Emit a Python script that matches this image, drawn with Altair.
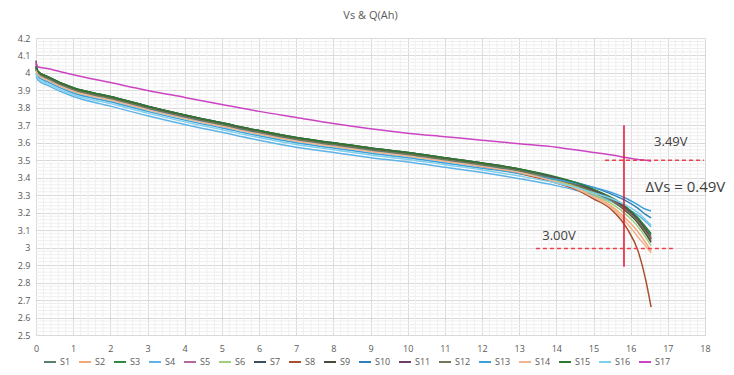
import altair as alt
import pandas as pd
import numpy as np

# Capacity (Ah) sample positions shared by all series
Q = [0, 0.05, 0.3, 1, 2, 3, 4, 5, 6, 7, 8, 9, 10, 11, 12, 13, 14, 14.5, 15, 15.5, 15.9, 16.2, 16.4, 16.55]

SERIES = ["S%d" % i for i in range(1, 18)]
COLORS = ["#5a7f6a", "#f4a77a", "#2f8a45", "#5fb3e6", "#b5679f", "#9fcf7f",
          "#3d4f5e", "#a8502c", "#4a4a3a", "#2f7fb8", "#6e3f66", "#6f7a55",
          "#3f9fd8", "#f2b48f", "#2a7a30", "#7fd0ee", "#cc44c4"]

S1 = [4.02, 3.995, 3.965, 3.90, 3.85, 3.795, 3.745, 3.70, 3.655, 3.615, 3.585, 3.555, 3.53, 3.50, 3.47, 3.435, 3.385, 3.355, 3.315, 3.265, 3.205, 3.145, 3.09, 3.04]
S2 = [4.03, 4.00, 3.97, 3.905, 3.855, 3.80, 3.75, 3.705, 3.66, 3.62, 3.59, 3.56, 3.535, 3.505, 3.475, 3.44, 3.385, 3.35, 3.30, 3.235, 3.16, 3.09, 3.03, 2.98]
S3 = [4.04, 4.01, 3.98, 3.915, 3.865, 3.81, 3.76, 3.715, 3.67, 3.63, 3.60, 3.57, 3.545, 3.515, 3.485, 3.45, 3.40, 3.37, 3.33, 3.28, 3.225, 3.165, 3.11, 3.07]
S4 = [3.98, 3.96, 3.93, 3.865, 3.81, 3.755, 3.705, 3.66, 3.615, 3.575, 3.545, 3.515, 3.49, 3.46, 3.43, 3.395, 3.355, 3.33, 3.30, 3.265, 3.225, 3.185, 3.15, 3.12]
S5 = [4.05, 4.005, 3.975, 3.91, 3.86, 3.805, 3.755, 3.71, 3.665, 3.625, 3.595, 3.565, 3.54, 3.51, 3.48, 3.445, 3.395, 3.365, 3.325, 3.275, 3.215, 3.155, 3.10, 3.06]
S6 = [4.01, 3.99, 3.96, 3.895, 3.845, 3.79, 3.74, 3.695, 3.65, 3.61, 3.58, 3.55, 3.525, 3.495, 3.465, 3.43, 3.38, 3.35, 3.305, 3.25, 3.185, 3.12, 3.06, 3.01]
S7 = [4.03, 4.005, 3.975, 3.91, 3.86, 3.805, 3.755, 3.71, 3.665, 3.625, 3.595, 3.565, 3.54, 3.51, 3.48, 3.445, 3.395, 3.365, 3.325, 3.275, 3.22, 3.16, 3.10, 3.05]
S8 = [4.02, 3.995, 3.965, 3.90, 3.85, 3.795, 3.745, 3.70, 3.655, 3.615, 3.585, 3.555, 3.53, 3.50, 3.465, 3.425, 3.37, 3.335, 3.28, 3.215, 3.11, 2.98, 2.82, 2.66]
S9 = [4.035, 4.005, 3.975, 3.91, 3.86, 3.805, 3.755, 3.71, 3.665, 3.625, 3.595, 3.565, 3.54, 3.51, 3.48, 3.445, 3.395, 3.365, 3.325, 3.27, 3.205, 3.14, 3.08, 3.03]
S10 = [4.02, 3.995, 3.965, 3.90, 3.85, 3.795, 3.745, 3.70, 3.655, 3.615, 3.585, 3.555, 3.53, 3.50, 3.47, 3.44, 3.40, 3.375, 3.345, 3.305, 3.265, 3.225, 3.19, 3.17]
S11 = [4.07, 4.01, 3.98, 3.915, 3.865, 3.81, 3.76, 3.715, 3.67, 3.63, 3.60, 3.57, 3.545, 3.515, 3.485, 3.45, 3.40, 3.37, 3.33, 3.28, 3.22, 3.16, 3.10, 3.05]
S12 = [4.025, 4.00, 3.97, 3.905, 3.855, 3.80, 3.75, 3.705, 3.66, 3.62, 3.59, 3.56, 3.535, 3.505, 3.475, 3.44, 3.39, 3.36, 3.32, 3.27, 3.21, 3.15, 3.09, 3.05]
S13 = [4.00, 3.98, 3.95, 3.885, 3.835, 3.78, 3.73, 3.685, 3.64, 3.60, 3.57, 3.54, 3.515, 3.485, 3.455, 3.425, 3.39, 3.37, 3.345, 3.315, 3.28, 3.245, 3.22, 3.21]
S14 = [4.015, 3.99, 3.96, 3.895, 3.845, 3.79, 3.74, 3.695, 3.65, 3.61, 3.58, 3.55, 3.525, 3.495, 3.465, 3.43, 3.375, 3.34, 3.29, 3.225, 3.14, 3.06, 3.01, 2.97]
S15 = [4.04, 4.01, 3.98, 3.915, 3.865, 3.81, 3.76, 3.715, 3.67, 3.63, 3.60, 3.57, 3.545, 3.515, 3.485, 3.45, 3.405, 3.375, 3.335, 3.285, 3.23, 3.17, 3.12, 3.08]
S16 = [3.995, 3.97, 3.94, 3.875, 3.825, 3.77, 3.72, 3.675, 3.63, 3.59, 3.56, 3.53, 3.505, 3.475, 3.445, 3.41, 3.37, 3.345, 3.315, 3.28, 3.24, 3.20, 3.16, 3.13]
S17 = [4.06, 4.035, 4.025, 3.99, 3.945, 3.90, 3.86, 3.82, 3.78, 3.745, 3.71, 3.68, 3.655, 3.635, 3.615, 3.595, 3.575, 3.56, 3.545, 3.53, 3.515, 3.505, 3.50, 3.495]

VALUES = [S1, S2, S3, S4, S5, S6, S7, S8, S9, S10, S11, S12, S13, S14, S15, S16, S17]

# Annotations
MARK_Q = [15.82]
MARK_V = [2.89, 3.70]
HI_LINE = [3.50, 15.31, 17.97]   # v, q start, q end
LO_LINE = [2.995, 13.45, 17.14]
LABELS = ["3.49V", "3.00V", "ΔVs = 0.49V"]
LABEL_Q = [17.08, 14.07, 16.40]
LABEL_V = [3.605, 3.065, 3.345]

X_TICKS = [float(i) for i in range(0, 19)]
Y_TICKS = [float(round(v, 1)) for v in np.arange(25, 43) / 10]

rows = []
for name, vals in zip(SERIES, VALUES):
    for q, v in zip(Q, vals):
        rows.append({"series": name, "q": q, "v": v})
df = pd.DataFrame(rows)

FONT = "Open Sans"
xs = alt.Scale(domain=[0, 18], nice=False, zero=False)
ys = alt.Scale(domain=[2.5, 4.2], nice=False, zero=False)

minor_x = [round(float(x), 2) for x in np.arange(0, 18.0001, 0.2) if abs(x - round(x)) > 1e-6]
minor_y = [round(float(y), 3) for y in np.arange(2.5, 4.2001, 0.02) if abs(y * 10 - round(y * 10)) > 1e-6]

x_axis = alt.Axis(values=X_TICKS, format=".0f", grid=True, gridColor="#d9d9d9",
                  domain=False, ticks=False, labelPadding=9, labelFontSize=9,
                  labelColor="#595959", labelFont=FONT, labelOverlap=False, labelFlush=False)
y_axis = alt.Axis(values=Y_TICKS, format=".1~f", grid=True, gridColor="#d9d9d9",
                  domain=False, ticks=False, labelPadding=6, labelFontSize=9,
                  labelColor="#595959", labelFont=FONT, labelOverlap=False, labelFlush=False)

X = lambda f: alt.X(f, type="quantitative", scale=xs, title=None, axis=x_axis)
Y = lambda f: alt.Y(f, type="quantitative", scale=ys, title=None, axis=y_axis)

lines = alt.Chart(df).mark_line(strokeWidth=1.5, interpolate="monotone").encode(
    x=X("q"),
    y=Y("v"),
    color=alt.Color("series:N", sort=SERIES, scale=alt.Scale(domain=SERIES, range=COLORS),
                    legend=alt.Legend(title=None, orient="none", legendX=7, legendY=317,
                                      direction="horizontal", columns=17, symbolType="stroke",
                                      symbolSize=144, symbolStrokeWidth=2, labelFontSize=9,
                                      labelColor="#595959", labelFont=FONT, columnPadding=4,
                                      labelOffset=3)),
)

vminor = alt.Chart(pd.DataFrame({"q": minor_x})).mark_rule(color="#efefef", strokeWidth=1).encode(
    x=X("q"))
hminor = alt.Chart(pd.DataFrame({"v": minor_y})).mark_rule(color="#efefef", strokeWidth=1).encode(
    y=Y("v"))

vline = alt.Chart(pd.DataFrame({"q": MARK_Q, "v": [MARK_V[0]], "v1": [MARK_V[1]]})).mark_rule(
    color="#e3122b", strokeWidth=1.5).encode(x=X("q"), y=Y("v"), y2="v1:Q")

dash_df = pd.DataFrame({"v": [HI_LINE[0], LO_LINE[0]], "q": [HI_LINE[1], LO_LINE[1]],
                        "q1": [HI_LINE[2], LO_LINE[2]]})
dashes = alt.Chart(dash_df).mark_rule(color="#e8404c", strokeWidth=1.5, strokeDash=[4, 3]).encode(
    x=X("q"), x2="q1:Q", y=Y("v"))

lab_df = pd.DataFrame({"t": LABELS, "q": LABEL_Q, "v": LABEL_V})
small_labels = alt.Chart(lab_df.iloc[:2]).mark_text(font=FONT, fontSize=13, color="#404040",
                                                     align="center", baseline="middle").encode(
    x=X("q"), y=Y("v"), text="t:N")
big_label = alt.Chart(lab_df.iloc[2:]).mark_text(font=FONT, fontSize=15, color="#404040",
                                                  align="left", baseline="middle").encode(
    x=X("q"), y=Y("v"), text="t:N")

chart = alt.layer(vminor, hminor, lines, vline, dashes, small_labels, big_label).properties(
    width=669, height=297,
    title=alt.Title("Vs & Q(Ah)", fontSize=11, font=FONT, fontWeight="normal", color="#595959",
                    anchor="middle", offset=13),
    autosize=alt.AutoSizeParams(type="none"),
    padding={"left": 28, "top": 30, "right": 21, "bottom": 32},
).configure_view(stroke=None).configure_axis(labelOverlap=False, labelFlush=False)

chart.save("out.html", embed_options={"renderer": "svg", "actions": False})
